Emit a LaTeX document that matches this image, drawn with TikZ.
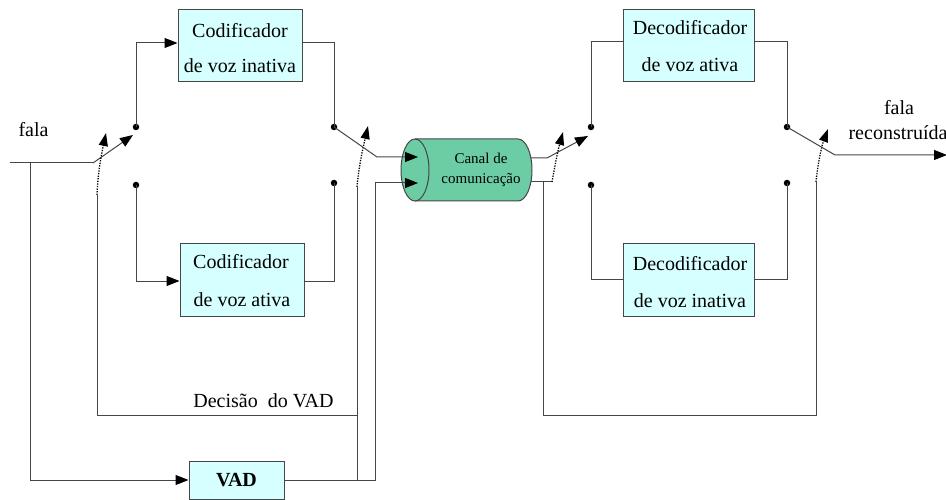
\documentclass[tikz,border=0pt]{standalone}
\usepackage{fontspec}
\setmainfont{Liberation Serif}
\usetikzlibrary{arrows.meta}
\definecolor{boxfill}{RGB}{214,255,255}
\definecolor{chanfill}{RGB}{108,204,164}
\definecolor{wire}{RGB}{70,70,70}
\begin{document}
\begin{tikzpicture}[x=1pt,y=-1pt,
  wirestyle/.style={draw=wire, line width=1pt},
  tipped/.style={wirestyle, -{Triangle[length=13pt,width=10pt,color=black]}},
  ctrl/.style={draw=black, line width=1.3pt, dash pattern=on 1.3pt off 1.3pt, -{Triangle[length=13pt,width=9pt,color=black]}},
  blockbox/.style={draw=wire, line width=1pt, fill=boxfill, inner sep=0pt},
  contact/.style={circle, fill=black, inner sep=0pt, minimum size=6.5pt},
  lbl/.style={font=\fontsize{20}{24}\selectfont, inner sep=0pt, anchor=base},
  smalllbl/.style={font=\fontsize{15}{18}\selectfont, inner sep=0pt, anchor=base},
]
\useasboundingbox (0,0) rectangle (946,500);
\clip (0,0) rectangle (946,500);

% ---- coding / decoding blocks ----
\node[blockbox, minimum width=124pt, minimum height=72pt] (encin)  at (240,46) {};
\node[blockbox, minimum width=124pt, minimum height=73pt] (encact) at (242,279.5) {};
\node[blockbox, minimum width=131pt, minimum height=72pt] (decact) at (688.5,46) {};
\node[blockbox, minimum width=131pt, minimum height=73pt] (decin)  at (688.5,279.5) {};
\node[blockbox, minimum width=95pt, minimum height=38pt,
      font=\fontsize{20}{24}\selectfont\bfseries] (vad) at (236.5,480) {VAD};

\node[lbl] (encinA)  at (240,38)  {Codificador};
\node[lbl] (encinB)  at (240,73)  {de voz inativa};
\node[lbl] (encactA) at (241,268) {Codificador};
\node[lbl] (encactB) at (242,306) {de voz ativa};
\node[lbl] (decactA) at (690,35)  {Decodificador};
\node[lbl] (decactB) at (690,72)  {de voz ativa};
\node[lbl] (decinA)  at (690,270) {Decodificador};
\node[lbl] (decinB)  at (690,307) {de voz inativa};

% ---- communication channel (cylinder) ----
\fill[chanfill] (415,139) -- (518,139)
  arc[start angle=90, end angle=-90, x radius=14pt, y radius=31pt]
  -- (415,201)
  arc[start angle=-90, end angle=-270, x radius=14pt, y radius=31pt] -- cycle;
\draw[wire, line width=1pt] (415,139) -- (518,139)
  arc[start angle=90, end angle=-90, x radius=14pt, y radius=31pt]
  -- (415,201);
\draw[wire, line width=1pt] (415,170) ellipse[x radius=14pt, y radius=31pt];
\node[smalllbl] (canalA) at (481,164) {Canal de};
\node[smalllbl] (canalB) at (481,184) {comunicação};

% ---- switch contacts ----
\node[contact] (d1) at (136,127) {};
\node[contact] (d2) at (136,185) {};
\node[contact] (d3) at (334,127) {};
\node[contact] (d4) at (334,183) {};
\node[contact] (d5) at (591,127) {};
\node[contact] (d6) at (591,185) {};
\node[contact] (d7) at (787,127) {};
\node[contact] (d8) at (787,183) {};

% ---- junction and pivot points ----
\coordinate (in)    at (10,163);
\coordinate (b1)    at (30,163);
\coordinate (p1)    at (93,163);
\coordinate (t1)    at (133,135);
\coordinate (c1)    at (97,195);
\coordinate (dl)    at (97,415);
\coordinate (dj)    at (357,415);
\coordinate (j1)    at (357,480);
\coordinate (c2)    at (357,187);
\coordinate (j2)    at (375,183);
\coordinate (p2)    at (377,157);
\coordinate (chin1) at (418,157);
\coordinate (chin2) at (418,183);
\coordinate (chout1) at (531,158);
\coordinate (chout2) at (531,182);
\coordinate (b3)    at (543,182);
\coordinate (p3)    at (547,158);
\coordinate (t3)    at (588,136);
\coordinate (c3)    at (552,182);
\coordinate (r1)    at (543,415);
\coordinate (r2)    at (816,415);
\coordinate (c4)    at (816,182);
\coordinate (p4)    at (835,155);
\coordinate (out)   at (947,155);

% ---- input side ----
\draw[wirestyle] (in) -- (p1);
\draw[tipped] (b1) |- (vad.west);
\draw[tipped] (p1) -- (t1);
\draw[tipped] (d1.center) |- ([yshift=3pt]encin.west);
\draw[tipped] (d2.center) |- ([yshift=-1.5pt]encact.west);
\draw[wirestyle] ([yshift=3pt]encin.east) -| (d3.center);
\draw[wirestyle] ([yshift=-1.5pt]encact.east) -| (d4.center);

% ---- VAD decision ----
\draw[wirestyle] (dj) -- (dl) -- (c1);
\draw[ctrl] (c1) .. controls (98,170) and (102,152) .. (106,133);
\draw[wirestyle] (j1) -- (c2);
\draw[ctrl] (c2) .. controls (359,165) and (363,148) .. (368,126);
\draw[tipped] (vad.east) -| (j2) -- (chin2);
\draw[tipped] (d3.center) -- (p2) -- (chin1);

% ---- receiver side ----
\draw[tipped] (chout1) -- (p3) -- (t3);
\draw[wirestyle] (chout2) -- (c3);
\draw[ctrl] (c3) .. controls (555,165) and (558,150) .. (563,132);
\draw[wirestyle] (b3) -- (r1) -- (r2) -- (c4);
\draw[ctrl] (c4) .. controls (818,162) and (822,145) .. (828,129);
\draw[wirestyle] (d5.center) |- ([yshift=4pt]decact.west);
\draw[wirestyle] (d6.center) |- (decin.west);
\draw[wirestyle] ([yshift=4pt]decact.east) -| (d7.center);
\draw[wirestyle] (decin.east) -| (d8.center);
\draw[tipped] (d7.center) -- (p4) -- (out);

% ---- labels ----
\node[lbl] (falain) at (33.5,137) {fala};
\node[lbl] (falaout) at (899,115) {fala};
\node[lbl] (recon) at (898,140) {reconstruída};
\node[lbl] (decisao) at (263.5,407) {Decisão~~do VAD};
\end{tikzpicture}
\end{document}
